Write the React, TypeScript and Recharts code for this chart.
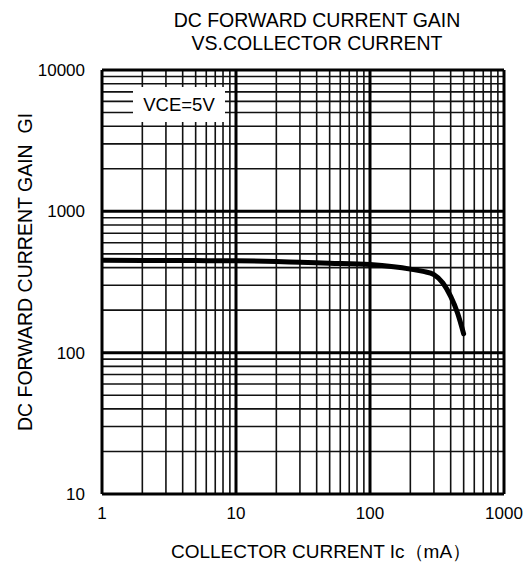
import { LineChart, Line, XAxis, YAxis, ReferenceLine } from 'recharts'

// collector current Ic (mA) and DC current gain
const currentMa = [1, 2, 5, 10, 20, 30, 50, 100, 150, 200, 250, 300, 350, 400, 450, 500]
const gain = [450, 449, 448, 447, 442, 436, 430, 420, 405, 390, 376, 357, 311, 250, 191, 136]

const xTicks = [1, 10, 100, 1000]
const yTicks = [10, 100, 1000, 10000]
const xMinor = [2, 3, 4, 5, 6, 7, 8, 9, 20, 30, 40, 50, 60, 70, 80, 90, 200, 300, 400, 500, 600, 700, 800, 900]
const yMinor = [20, 30, 40, 50, 60, 70, 80, 90, 200, 300, 400, 500, 600, 700, 800, 900, 2000, 3000, 4000, 5000, 6000, 7000, 8000, 9000]

const data = currentMa.map((ic, i) => ({ ic, gain: gain[i] }))

const font = '"Liberation Sans", Arial, sans-serif'

export default function App() {
  return (
    <div style={{ position: 'relative', width: 531, height: 565, fontFamily: font }}>
      <style>{`body{margin:0}`}</style>
      <LineChart width={531} height={565} data={data} margin={{ top: 70, right: 27, left: 0, bottom: 0 }}>
        <XAxis
          dataKey="ic"
          type="number"
          scale="log"
          domain={[1, 1000]}
          ticks={xTicks}
          allowDataOverflow
          axisLine={false}
          tickLine={false}
          tickMargin={7}
          height={71}
          tick={{ fill: '#000', fontSize: 17, fontFamily: font }}
        />
        <YAxis
          type="number"
          scale="log"
          domain={[10, 10000]}
          ticks={yTicks}
          allowDataOverflow
          axisLine={false}
          tickLine={false}
          tickMargin={11}
          width={102}
          tick={{ fill: '#000', fontSize: 17, fontFamily: font }}
        />
        {xMinor.map((v) => (
          <ReferenceLine key={'xm' + v} x={v} stroke="#111" strokeWidth={1.6} />
        ))}
        {yMinor.map((v) => (
          <ReferenceLine key={'ym' + v} y={v} stroke="#111" strokeWidth={1.6} />
        ))}
        {xTicks.map((v) => (
          <ReferenceLine key={'xM' + v} x={v} stroke="#000" strokeWidth={3} />
        ))}
        {yTicks.map((v) => (
          <ReferenceLine key={'yM' + v} y={v} stroke="#000" strokeWidth={3} />
        ))}
        <Line
          dataKey="gain"
          type="monotone"
          stroke="#000"
          strokeWidth={5}
          strokeLinecap="round"
          dot={false}
          isAnimationActive={false}
        />
        <text x={317} y={26.5} textAnchor="middle" fontSize={19.5} fontFamily={font} fill="#000">
          DC FORWARD CURRENT GAIN
        </text>
        <text x={317} y={49.5} textAnchor="middle" fontSize={19.5} fontFamily={font} fill="#000">
          VS.COLLECTOR CURRENT
        </text>
        <text x={321} y={558} textAnchor="middle" fontSize={19} fontFamily={font} fill="#000">
          COLLECTOR CURRENT Ic（mA）
        </text>
        <text
          x={32}
          y={272}
          textAnchor="middle"
          fontSize={19.5}
          fontFamily={font}
          fill="#000"
          transform="rotate(-90 32 272)"
        >
          {'DC FORWARD CURRENT GAIN\u00a0\u00a0GI'}
        </text>
      </LineChart>
      <div
        style={{
          position: 'absolute',
          left: 133,
          top: 87,
          width: 92,
          height: 35,
          background: '#fff',
          fontSize: 18.5,
          lineHeight: '35px',
          textAlign: 'center',
          color: '#000',
        }}
      >
        VCE=5V
      </div>
    </div>
  )
}
